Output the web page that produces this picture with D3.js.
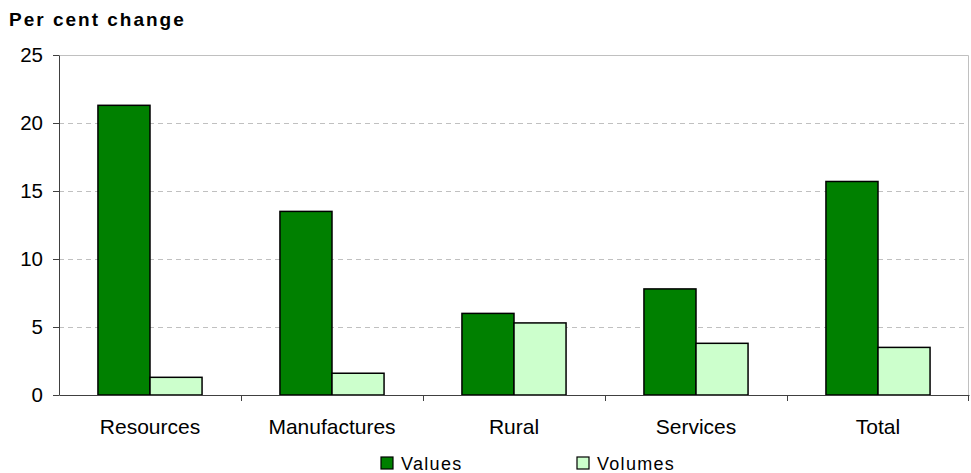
<!DOCTYPE html>
<html>
<head>
<meta charset="utf-8">
<script src="https://cdn.jsdelivr.net/npm/d3@7"></script>
<style>
  body { margin: 0; background: #fff; }
  text { font-family: "Liberation Sans", Arial, sans-serif; }
</style>
</head>
<body>
<div id="chart"></div>
<script>
// Data
var categories = ["Resources", "Manufactures", "Rural", "Services", "Total"];
var seriesNames = ["Values", "Volumes"];
var valuesData = [21.3, 13.5, 6.0, 7.8, 15.7];
var volumesData = [1.3, 1.6, 5.3, 3.8, 3.5];
var yTicks = [0, 5, 10, 15, 20, 25];

var colors = { Values: "#008000", Volumes: "#ccffcc" };

var svgWidth = 971,
    svgHeight = 473,
    margin = { top: 55, right: 2, bottom: 78, left: 59 },
    chartWidth = svgWidth - margin.left - margin.right,
    chartHeight = svgHeight - margin.top - margin.bottom;

var svg = d3.select("#chart").append("svg")
    .attr("width", svgWidth)
    .attr("height", svgHeight);

var chartGroup = svg.append("g")
    .attr("transform", `translate(${margin.left}, ${margin.top})`);

var rows = categories.map(function(c, i) {
    return { category: c, Values: valuesData[i], Volumes: volumesData[i] };
});

var xScale = d3.scaleBand()
    .domain(categories)
    .range([0, chartWidth]);

var xInner = d3.scaleBand()
    .domain(seriesNames)
    .range([0, xScale.bandwidth() * 0.572])
    .padding(0);

var yScale = d3.scaleLinear()
    .domain([0, 25])
    .range([chartHeight, 0]);

// gridlines
chartGroup.append("g")
    .selectAll("line")
    .data(yTicks.filter(function(d) { return d > 0 && d < 25; }))
    .enter()
    .append("line")
        .attr("x1", 0)
        .attr("x2", chartWidth)
        .attr("y1", function(d) { return yScale(d) + 0.5; })
        .attr("y2", function(d) { return yScale(d) + 0.5; })
        .attr("stroke", "#c0c0c0")
        .attr("stroke-dasharray", "5,4");

// plot frame top and right
chartGroup.append("path")
    .attr("d", `M0,0.5H${chartWidth - 0.5}V${chartHeight}`)
    .attr("fill", "none")
    .attr("stroke", "#c0c0c0");

// bars
var groups = chartGroup.append("g")
    .selectAll("g")
    .data(rows)
    .enter()
    .append("g")
        .attr("transform", function(d) {
            var off = (xScale.bandwidth() - xInner.range()[1]) / 2;
            return `translate(${xScale(d.category) + off}, 0)`;
        });

groups.selectAll("rect")
    .data(function(d) { return seriesNames.map(function(s) { return { key: s, value: d[s] }; }); })
    .enter()
    .append("rect")
        .attr("x", function(d) { return xInner(d.key); })
        .attr("y", function(d) { return yScale(d.value); })
        .attr("width", xInner.bandwidth())
        .attr("height", function(d) { return chartHeight - yScale(d.value); })
        .attr("fill", function(d) { return colors[d.key]; })
        .attr("stroke", "#000")
        .attr("stroke-width", 1.5);

// x axis
var xAxis = chartGroup.append("g")
    .attr("transform", `translate(0, ${chartHeight})`)
    .call(d3.axisBottom(xScale).tickSize(0).tickPadding(24));
xAxis.select(".domain").attr("stroke", "#404040");
xAxis.selectAll("text").attr("font-size", "21px").attr("fill", "#000")
    .style("font-family", "Liberation Sans, Arial, sans-serif");

// category separator ticks
chartGroup.append("g")
    .selectAll("line")
    .data(categories.slice(1).concat(["end"]))
    .enter()
    .append("line")
        .attr("x1", function(d) { return d === "end" ? chartWidth - 0.5 : xScale(d) + 0.5; })
        .attr("x2", function(d) { return d === "end" ? chartWidth - 0.5 : xScale(d) + 0.5; })
        .attr("y1", chartHeight)
        .attr("y2", chartHeight + 6)
        .attr("stroke", "#404040");

// y axis
var yAxis = chartGroup.append("g")
    .call(d3.axisLeft(yScale).tickValues(yTicks).tickSize(6).tickPadding(10).tickSizeOuter(0));
yAxis.select(".domain").attr("stroke", "#404040");
yAxis.selectAll(".tick line").attr("stroke", "#404040");
yAxis.selectAll("text").attr("font-size", "20.5px").attr("fill", "#000")
    .style("font-family", "Liberation Sans, Arial, sans-serif");

// title
svg.append("text")
    .attr("x", 9)
    .attr("y", 26)
    .attr("font-size", "19px")
    .attr("font-weight", "bold")
    .attr("letter-spacing", "2px")
    .text("Per cent change");

// legend
var legendX = [381, 577];
var legend = svg.append("g")
    .selectAll("g")
    .data(seriesNames)
    .enter()
    .append("g")
        .attr("transform", function(d, i) { return `translate(${legendX[i]}, 457)`; });

legend.append("rect")
    .attr("width", 12)
    .attr("height", 12)
    .attr("fill", function(d) { return colors[d]; })
    .attr("stroke", "#000")
    .attr("stroke-width", 1.2);

legend.append("text")
    .attr("x", 20)
    .attr("y", 13)
    .attr("font-size", "18px")
    .attr("letter-spacing", "1.3px")
    .text(function(d) { return d; });
</script>
</body>
</html>
